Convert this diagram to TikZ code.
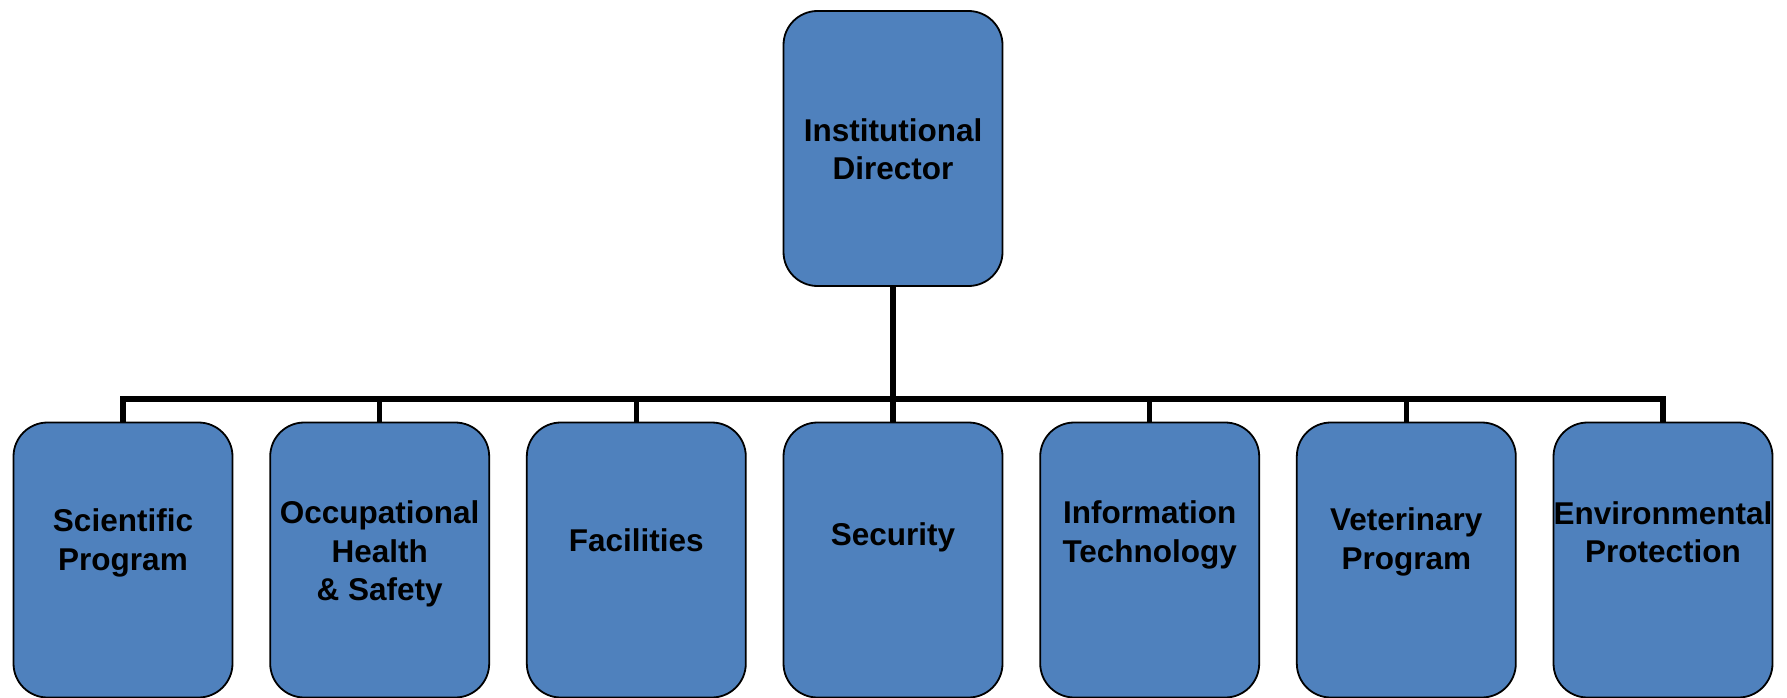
\documentclass[tikz,border=0pt]{standalone}
\usepackage{fontspec}
\setmainfont{Liberation Sans}
\usepackage{tikz}

\definecolor{unitblue}{RGB}{79,129,189}

\begin{document}
\begin{tikzpicture}[x=1pt,y=-1pt,
    unit/.style={draw=black,line width=1.8pt,fill=unitblue,rounded corners=34pt,
                 minimum width=219pt,minimum height=275pt,inner sep=0pt},
    caption/.style={font=\fontsize{31.5}{38.5}\selectfont\bfseries,align=center,inner sep=0pt},
    link/.style={line width=5.5pt,line join=miter}]
  \useasboundingbox (0,0) rectangle (1787,698);

  \draw (893,148.5) node[unit] (dir) {};
  \draw (893,149) node[caption] (dirT) {Institutional\\Director};

  \draw (123,560) node[unit] (sci) {};
  \draw (379.7,560) node[unit] (occ) {};
  \draw (636.3,560) node[unit] (fac) {};
  \draw (893,560) node[unit] (sec) {};
  \draw (1149.7,560) node[unit] (inf) {};
  \draw (1406.3,560) node[unit] (vet) {};
  \draw (1663,560) node[unit] (env) {};

  \draw (123,543) node[caption] (sciT) {Scientific\\Program};
  \draw (379.7,554) node[caption] (occT) {Occupational\\Health\\\& Safety};
  \draw (636.3,540) node[caption] (facT) {Facilities};
  \draw (893,537) node[caption] (secT) {Security};
  \draw (1149.7,535) node[caption] (infT) {Information\\Technology};
  \draw (1406.3,542) node[caption] (vetT) {Veterinary\\Program};
  \draw (1663,532) node[caption] (envT) {Environmental\\Protection};

  \coordinate (bar) at (893,399);
  \draw[link] (dir.south) -- (bar);
  \draw[link] (sci.north) |- (env.north |- bar) -- (env.north);
  \foreach \u in {occ,fac,sec,inf,vet}
    \draw[link] (bar -| \u.north) -- (\u.north);
\end{tikzpicture}
\end{document}
